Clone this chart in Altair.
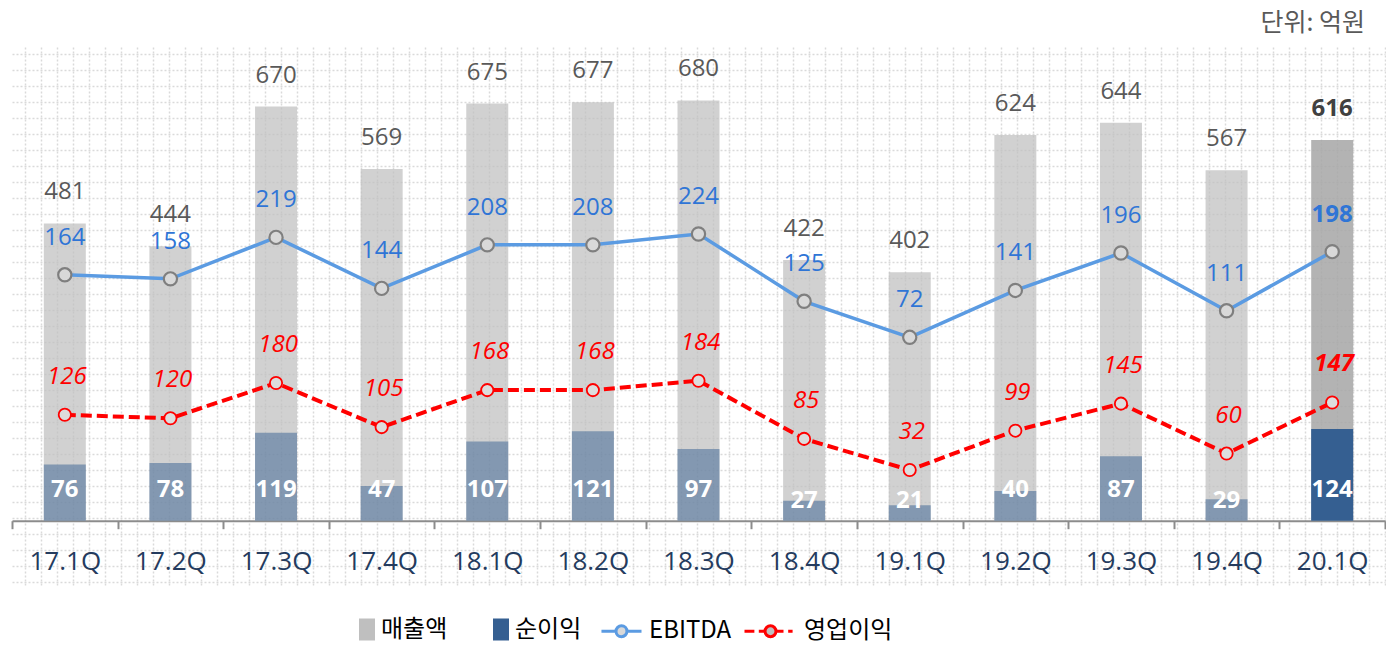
import altair as alt
import pandas as pd

# ---------------- data ----------------
quarters = ["17.1Q", "17.2Q", "17.3Q", "17.4Q", "18.1Q", "18.2Q", "18.3Q",
            "18.4Q", "19.1Q", "19.2Q", "19.3Q", "19.4Q", "20.1Q"]
sales = [481, 444, 670, 569, 675, 677, 680, 422, 402, 624, 644, 567, 616]
net_income = [76, 78, 119, 47, 107, 121, 97, 27, 21, 40, 87, 29, 124]
ebitda = [164, 158, 219, 144, 208, 208, 224, 125, 72, 141, 196, 111, 198]
op_income = [126, 120, 180, 105, 168, 168, 184, 85, 32, 99, 145, 60, 147]
legend_labels = ["매출액", "순이익", "EBITDA", "영업이익"]
unit_text = "단위: 억원"

df = pd.DataFrame({"q": quarters, "sales": sales, "net": net_income,
                   "ebitda": ebitda, "op": op_income})
last = quarters[-1]

W, H = 1373, 540
NUM_FONT = "Open Sans"
KR_FONT = "Noto Sans CJK KR"

# ---------------- scales ----------------
sales_scale = alt.Scale(domain=[-104.0, 769.7], zero=False, nice=False)
net_scale = alt.Scale(domain=[-86.9, 642.8], zero=False, nice=False)
ebitda_scale = alt.Scale(domain=[-292.2, 501.9], zero=False, nice=False)
op_scale = alt.Scale(domain=[-163.7, 755.4], zero=False, nice=False)

x_axis = alt.Axis(title=None, labelAngle=0, labelFont=NUM_FONT, labelFontSize=26,
                  labelColor="#243B5E", labelPadding=20, tickBand="extent",
                  tickSize=8, tickColor="#8C8C8C", tickWidth=2,
                  domainColor="#8C8C8C", domainWidth=2, offset=-64.3,
                  grid=False, labelFlush=False)
x_enc = alt.X("q:N", sort=quarters,
              scale=alt.Scale(paddingInner=0, paddingOuter=0), axis=x_axis)

base = alt.Chart(df)
is_last = alt.datum.q == last
not_last = alt.datum.q != last

# ---------------- 매출액 ----------------
sales_bar = base.mark_bar(width=42).encode(
    x=x_enc,
    y=alt.Y("sales:Q", scale=sales_scale, axis=None),
    y2=alt.Y2(datum=0),
    color=alt.condition(is_last, alt.value("#A6A6A6"), alt.value("#BFBFBF")),
    opacity=alt.condition(is_last, alt.value(0.85), alt.value(0.72)),
)
sales_lbl = base.transform_filter(not_last).mark_text(
    dy=-24, baseline="alphabetic", font=NUM_FONT, fontSize=24, color="#595959"
).encode(x=x_enc, y=alt.Y("sales:Q", scale=sales_scale, axis=None), text="sales:Q")
sales_lbl_last = base.transform_filter(is_last).mark_text(
    dy=-24, baseline="alphabetic", font=NUM_FONT, fontSize=24, fontWeight="bold",
    color="#404040"
).encode(x=x_enc, y=alt.Y("sales:Q", scale=sales_scale, axis=None), text="sales:Q")

# ---------------- 순이익 ----------------
net_bar = base.mark_bar(width=42).encode(
    x=x_enc,
    y=alt.Y("net:Q", scale=net_scale, axis=None),
    y2=alt.Y2(datum=0),
    color=alt.value("#355F91"),
    opacity=alt.condition(is_last, alt.value(1.0), alt.value(0.5)),
)
net_lbl = base.transform_calculate(
    lbl_y="datum.net >= 35 ? 32 : 17"
).mark_text(
    baseline="alphabetic", font=NUM_FONT, fontSize=24, fontWeight="bold", color="white"
).encode(x=x_enc, y=alt.Y("lbl_y:Q", scale=net_scale, axis=None), text="net:Q")

# ---------------- EBITDA ----------------
eb_line = base.mark_line(color="#5B9BE2", strokeWidth=3.5).encode(
    x=x_enc, y=alt.Y("ebitda:Q", scale=ebitda_scale, axis=None))
eb_pts = base.mark_point(shape="circle", filled=True, fill="#D9D9D9", stroke="#7F7F7F",
                         strokeWidth=2.2, size=175, opacity=1).encode(
    x=x_enc, y=alt.Y("ebitda:Q", scale=ebitda_scale, axis=None))
eb_lbl = base.transform_filter(not_last).mark_text(
    dy=-30, baseline="alphabetic", font=NUM_FONT, fontSize=24, color="#2F75D6"
).encode(x=x_enc, y=alt.Y("ebitda:Q", scale=ebitda_scale, axis=None), text="ebitda:Q")
eb_lbl_last = base.transform_filter(is_last).mark_text(
    dy=-30, baseline="alphabetic", font=NUM_FONT, fontSize=24, fontWeight="bold",
    color="#2F75D6"
).encode(x=x_enc, y=alt.Y("ebitda:Q", scale=ebitda_scale, axis=None), text="ebitda:Q")

# ---------------- 영업이익 ----------------
op_line = base.mark_line(color="#FF0000", strokeWidth=4, strokeDash=[11, 5]).encode(
    x=x_enc, y=alt.Y("op:Q", scale=op_scale, axis=None))
op_pts = base.mark_point(shape="circle", filled=True, fill="#DDDDDD", stroke="#FF0000",
                         strokeWidth=1.8, size=150, opacity=1).encode(
    x=x_enc, y=alt.Y("op:Q", scale=op_scale, axis=None))
op_lbl = base.transform_filter(not_last).mark_text(
    dy=-31, dx=2, baseline="alphabetic", font=NUM_FONT, fontSize=24, fontStyle="italic",
    color="#FF0000"
).encode(x=x_enc, y=alt.Y("op:Q", scale=op_scale, axis=None), text="op:Q")
op_lbl_last = base.transform_filter(is_last).mark_text(
    dy=-31, dx=2, baseline="alphabetic", font=NUM_FONT, fontSize=24, fontStyle="italic",
    fontWeight="bold", color="#FF0000"
).encode(x=x_enc, y=alt.Y("op:Q", scale=op_scale, axis=None), text="op:Q")

# ---------------- legend ----------------
legend_df = pd.DataFrame({"series": legend_labels})
shape_paths = [
    "M0.5,-0.365H1V0.365H0.5Z",
    "M0.5,-0.365H1V0.365H0.5Z",
    "M-0.54,0H0.02M0.44,0H1M0.44,0A0.21,0.21 0 1,1 0.02,0A0.21,0.21 0 1,1 0.44,0Z",
    "M-1,0H-0.62M-0.45,0H-0.21M0.21,0H0.5M0.68,0H0.85M0.21,0A0.21,0.21 0 1,1 -0.21,0A0.21,0.21 0 1,1 0.21,0Z",
]
fills = ["#BFBFBF", "#355F91", "#D9D9D9", "#BFBFBF"]
strokes = ["#BFBFBF", "#355F91", "#5B9BE2", "#FF0000"]
leg = alt.Legend(title=None, orient="none", direction="horizontal", legendX=308,
                 legendY=557, symbolSize=2704, symbolStrokeWidth=3,
                 labelFont=KR_FONT, labelFontSize=24, labelColor="#000000",
                 labelOffset=6, columnPadding=6, padding=0, symbolOpacity=1,
                 labelLimit=0)
legend_layer = alt.Chart(legend_df).transform_filter("false").mark_point(
    opacity=1, size=2704
).encode(
    fill=alt.Fill("series:N", scale=alt.Scale(domain=legend_labels, range=fills), legend=leg),
    stroke=alt.Stroke("series:N", scale=alt.Scale(domain=legend_labels, range=strokes), legend=leg),
    shape=alt.Shape("series:N", scale=alt.Scale(domain=legend_labels, range=shape_paths), legend=leg),
)

main = alt.layer(
    sales_bar, net_bar, sales_lbl, sales_lbl_last, net_lbl,
    eb_line, eb_pts, op_line, op_pts,
    eb_lbl, eb_lbl_last, op_lbl, op_lbl_last, legend_layer
).resolve_scale(y="independent")

# ---------------- background dotted grid ----------------
grid_df = pd.DataFrame({"g": [0]})
gx = list(range(13, W + 1, 16))
gy = list(range(9, H, 16))
grid_axis = dict(grid=True, gridColor="#DADADA", gridDash=[2, 2], gridWidth=1.5,
                 labels=False, ticks=False, domain=False, title=None)
grid = alt.Chart(grid_df).mark_point(opacity=0).encode(
    x=alt.X("g:Q", scale=alt.Scale(domain=[0, W], nice=False, zero=False),
            axis=alt.Axis(values=gx, orient="top", **grid_axis)),
    y=alt.Y("g:Q", scale=alt.Scale(domain=[H, 0], nice=False, zero=False),
            axis=alt.Axis(values=gy, orient="left", **grid_axis)),
)

chart = alt.layer(grid, main).resolve_scale(
    x="independent", y="independent"
).properties(
    width=W, height=H,
    autosize=alt.AutoSizeParams(type="none"),
    padding={"left": 12, "top": 45, "right": 1, "bottom": 63},
    background="white",
    title=alt.TitleParams(unit_text, anchor="end", orient="top", frame="group",
                          font=KR_FONT, fontSize=25, fontWeight="normal",
                          color="#595959", dx=-20, dy=28, offset=14,
                          baseline="alphabetic"),
).configure_view(stroke="transparent")

chart.save("out.html", embed_options={"renderer": "svg", "actions": False})
